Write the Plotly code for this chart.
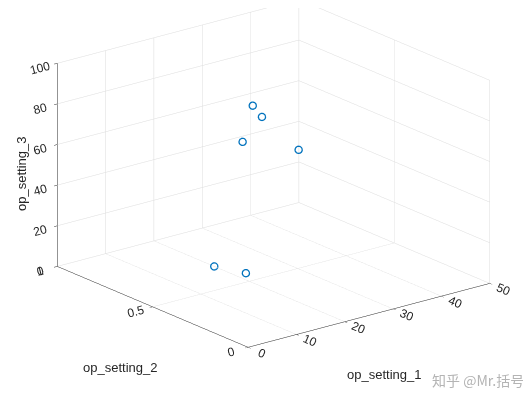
import math
import plotly.graph_objects as go

# data
op_setting_1 = [20, 22, 0, 25, 35, 42]
op_setting_2 = [0.685, 0.57, 0.03, 0.61, 0.815, 0.80]
op_setting_3 = [0, 0, 100, 79, 59, 39]

x_ticks = [0, 10, 20, 30, 40, 50]
y_ticks = [0, 0.5, 1]
z_ticks = [0, 20, 40, 60, 80, 100]

fig = go.Figure()
fig.add_trace(go.Scatter3d(
    x=op_setting_1, y=op_setting_2, z=op_setting_3,
    mode="markers",
    marker=dict(symbol="circle-open", size=4.5, color="#0072BD",
                line=dict(color="#0072BD", width=1)),
    showlegend=False,
))

font = dict(family="Liberation Sans, Arial, sans-serif", size=12, color="#262626")

def ax(ticks, rng):
    return dict(
        title=dict(text=""),
        tickvals=ticks, ticktext=[("%g" % t) for t in ticks],
        range=rng, autorange=False,
        showbackground=False,
        gridcolor="#DCDCDC", gridwidth=1,
        showline=True, linecolor="#262626", linewidth=1,
        zeroline=False, ticks="outside", tickcolor="#262626", ticklen=4,
        tickfont=dict(size=12, color="#262626"),
        showspikes=False,
    )

az = math.radians(38.3)
h = 0.949
d = (-math.sin(az) * h, -math.cos(az) * h, 0.245)
k = 1.9
s = 1.555
fig.update_layout(
    width=531, height=396,
    margin=dict(l=0, r=0, t=0, b=0),
    paper_bgcolor="white",
    font=font,
    scene=dict(
        domain=dict(x=[0.0, 1], y=[0.0, 1]),
        xaxis=ax(x_ticks, [0, 50]),
        yaxis=ax(y_ticks, [0, 1]),
        zaxis=ax(z_ticks, [0, 100]),
        aspectmode="manual",
        aspectratio=dict(x=1 * s, y=1.0 * s, z=0.70 * s),
        camera=dict(
            eye=dict(x=d[0] * k, y=d[1] * k, z=d[2] * k),
            center=dict(x=0.0, y=0.0, z=-0.175),
            up=dict(x=0, y=0, z=1),
            projection=dict(type="orthographic"),
        ),
    ),
)

# axis titles placed as in the reference (pixel positions converted to paper coords)
W, H = 531, 396
def title(text, px, py, angle=0):
    return dict(text=text, x=px / W, y=1 - py / H, xref="paper", yref="paper",
                xanchor="center", yanchor="middle", showarrow=False, textangle=angle,
                font=dict(size=13, color="#262626"))

fig.layout.annotations = [
    title("op_setting_1", 376, 366),
    title("op_setting_2", 112, 359),
    title("op_setting_3", 14, 166, -90),
    dict(text="知乎 @Mr.括号", x=518 / W, y=1 - 372 / H, xref="paper", yref="paper",
         xanchor="right", yanchor="middle", showarrow=False,
         font=dict(family="Noto Sans CJK SC", size=14, color="#B4B4B4")),
]

fig.write_html("out.html")
